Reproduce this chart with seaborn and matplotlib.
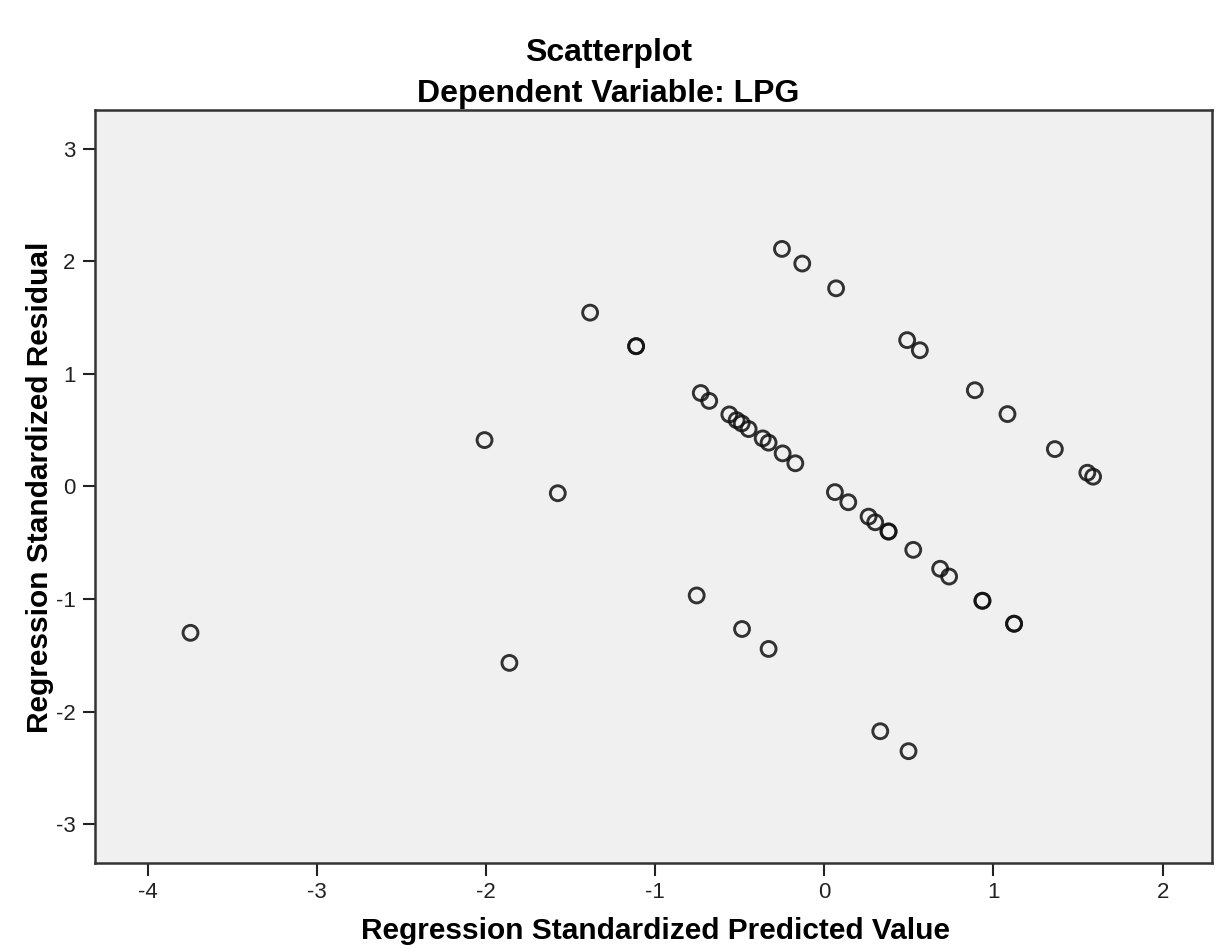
import matplotlib
matplotlib.use("Agg")
import matplotlib.pyplot as plt
import seaborn as sns
import pandas as pd

# standardized predicted values (x) and standardized residuals (y)
pred = [-3.746, -2.008, -1.861, -1.575, -1.384, -1.112, -1.112, -0.754,
        -0.730, -0.680, -0.561, -0.518, -0.488, -0.447, -0.364, -0.329,
        -0.246, -0.171, -0.486, -0.329, -0.250, -0.130, 0.070, 0.063,
        0.142, 0.262, 0.301, 0.380, 0.380, 0.526, 0.685, 0.738, 0.935,
        0.935, 1.122, 1.122, 0.490, 0.565, 0.890, 1.083, 1.363, 1.555,
        1.589, 0.331, 0.498]
resid = [-1.300, 0.412, -1.567, -0.060, 1.544, 1.246, 1.246, -0.968,
         0.830, 0.760, 0.640, 0.589, 0.560, 0.510, 0.427, 0.389,
         0.294, 0.206, -1.266, -1.443, 2.110, 1.980, 1.760, -0.050,
         -0.140, -0.268, -0.318, -0.400, -0.400, -0.563, -0.731, -0.800, -1.015,
         -1.015, -1.219, -1.219, 1.300, 1.210, 0.855, 0.643, 0.332, 0.122,
         0.087, -2.174, -2.351]

xticks = [-4, -3, -2, -1, 0, 1, 2]
yticks = [-3, -2, -1, 0, 1, 2, 3]

df = pd.DataFrame({"pred": pred, "resid": resid})

sns.set_theme(style="white")
plt.rcParams["font.family"] = ["Liberation Sans", "DejaVu Sans"]
plt.rcParams["axes.unicode_minus"] = False
plt.rcParams["text.color"] = "black"
plt.rcParams["xtick.color"] = "#222222"
plt.rcParams["ytick.color"] = "#222222"

fig = plt.figure(figsize=(12.19, 9.52), dpi=100)
ax = fig.add_axes([0.078, 0.094, 0.916, 0.790])
ax.set_facecolor("#f0f0f0")

sns.scatterplot(data=df, x="pred", y="resid", ax=ax, marker="o", s=115,
                facecolor="none", edgecolor="#111111", linewidth=2.1,
                alpha=0.85, legend=False)

ax.set_xlim(-4.31, 2.29)
ax.set_ylim(-3.34, 3.34)
ax.set_xticks(xticks)
ax.set_yticks(yticks)
ax.tick_params(axis="both", direction="out", length=9, width=1.5,
               labelsize=16, pad=5, bottom=True, left=True)
for sp in ax.spines.values():
    sp.set_color("#333333")
    sp.set_linewidth(1.8)

ax.set_xlabel("")
ax.set_ylabel("")
fig.text(0.538, 0.022, "Regression Standardized Predicted Value",
         ha="center", va="center", fontsize=21.5, fontweight="bold")
fig.text(0.033, 0.488, "Regression Standardized Residual", rotation=90,
         ha="center", va="center", fontsize=21.5, fontweight="bold")

fig.text(0.499, 0.944, "Scatterplot", ha="center", va="center",
         fontsize=23, fontweight="bold")
fig.text(0.499, 0.901, "Dependent Variable: LPG", ha="center", va="center",
         fontsize=23, fontweight="bold")

plt.savefig("out.png", dpi=100, facecolor="white")
